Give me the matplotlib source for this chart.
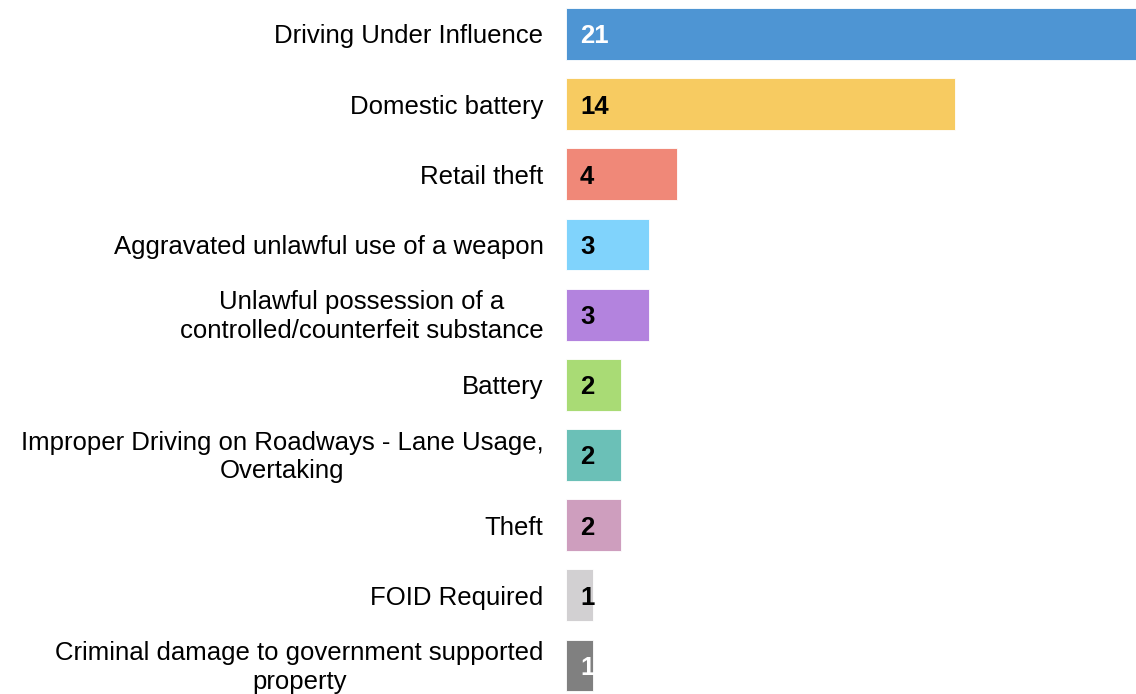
import matplotlib
matplotlib.use("Agg")
import matplotlib.pyplot as plt
from matplotlib.transforms import ScaledTranslation

categories = [
    "Driving Under Influence",
    "Domestic battery",
    "Retail theft",
    "Aggravated unlawful use of a weapon",
    "Unlawful possession of a\ncontrolled/counterfeit substance",
    "Battery",
    "Improper Driving on Roadways - Lane Usage,\nOvertaking",
    "Theft",
    "FOID Required",
    "Criminal damage to government supported\nproperty",
]
counts = [21, 14, 4, 3, 3, 2, 2, 2, 1, 1]
colors = ["#4E95D3", "#F7CB61", "#F08878", "#80D3FC", "#B383DE",
          "#A9DB75", "#6BC0B7", "#CE9EBE", "#D2D0D2", "#808080"]
text_colors = ["white", "black", "black", "black", "black",
               "black", "black", "black", "black", "white"]

plt.rcParams["font.family"] = ["Liberation Sans", "DejaVu Sans"]

fig = plt.figure(figsize=(11.36, 6.94), dpi=100)
x0 = 565.5 / 1136
ax = fig.add_axes([x0, 0, 1 - x0, 1])

y = list(range(len(categories)))
ax.barh(y, counts, height=0.74, color=colors, edgecolor="white", linewidth=0.6)

for i, (v, tc) in enumerate(zip(counts, text_colors)):
    ax.annotate(str(v), (0, i), xytext=(10.5, -6.8), textcoords="offset points",
                va="baseline", ha="left", fontsize=18.5, fontweight="bold", color=tc)

# category labels drawn as text so multi-line ones can be nudged up a little
for i, name in enumerate(categories):
    dy = 3 if "\n" in name else 0
    tr = ax.get_yaxis_transform() + ScaledTranslation(-22 / 100, dy / 100, fig.dpi_scale_trans)
    ax.text(0, i, name, transform=tr, ha="right", va="center_baseline",
            multialignment="center", linespacing=1.26, fontsize=18.5, clip_on=False)

ax.set_xlim(0, 20.53)
ax.set_ylim(9.406, -0.4845)
ax.set_yticks([])
ax.set_xticks([])
for s in ax.spines.values():
    s.set_visible(False)

fig.savefig("out.png", dpi=100)
